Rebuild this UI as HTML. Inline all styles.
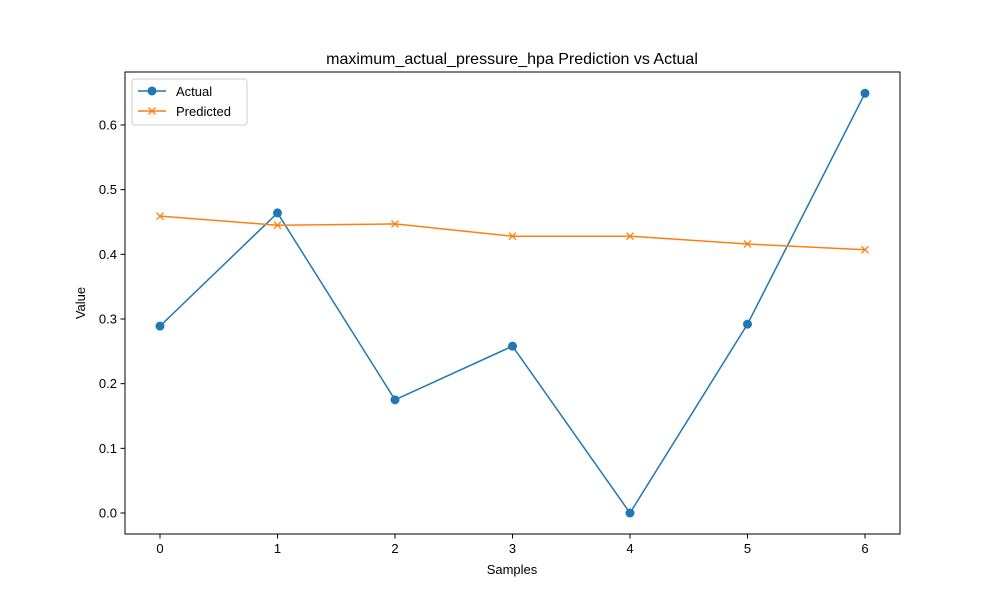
<!DOCTYPE html>
<html><head><meta charset="utf-8"><style>
body{margin:0;background:#fff;}
svg{font-family:"Liberation Sans","DejaVu Sans",sans-serif;}
</style></head><body>
<svg id="chart" width="1000" height="600" viewBox="0 0 1000 600">
<rect width="1000" height="600" fill="#fff"/>
<text x="512" y="64" font-size="16" text-anchor="middle">maximum_actual_pressure_hpa Prediction vs Actual</text>
<g id="axes"></g>
<g id="series"></g>
<rect x="125" y="72" width="775" height="462" fill="none" stroke="#000" stroke-width="1"/>
<text x="512" y="574" font-size="13" text-anchor="middle">Samples</text>
<text x="85" y="303" font-size="13" text-anchor="middle" transform="rotate(-90 85 303)">Value</text>
<g>
<rect x="132" y="79" width="115" height="46" fill="#fff" stroke="#ccc" rx="3"/>
<g>
<line x1="138" y1="91" x2="166" y2="91" stroke="#1f77b4" stroke-width="1.5"/>
<circle cx="152" cy="91" r="4.5" fill="#1f77b4"/>
<text x="176" y="96" font-size="13">Actual</text></g>
<g>
<line x1="138" y1="111" x2="166" y2="111" stroke="#ff7f0e" stroke-width="1.5"/>
<path d="M148.5 107.5L155.5 114.5M155.5 107.5L148.5 114.5" stroke="#ff7f0e" stroke-width="1.3"/>
<text x="176" y="116" font-size="13">Predicted</text></g>
</g>
</svg>
<script>
const samples=[0,1,2,3,4,5,6];
const actual=[0.289,0.464,0.175,0.258,0.0,0.292,0.649];
const predicted=[0.459,0.445,0.447,0.428,0.428,0.416,0.407];
const yTicks=[0.0,0.1,0.2,0.3,0.4,0.5,0.6];
const xTicks=[0,1,2,3,4,5,6];
const NS="http://www.w3.org/2000/svg";
const xs=v=>160+v*117.5;
const ys=v=>513-v*646.7;
function mk(t,a,p){const e=document.createElementNS(NS,t);for(const k in a)e.setAttribute(k,a[k]);p.appendChild(e);return e;}
const ax=document.getElementById('axes'),se=document.getElementById('series');
xTicks.forEach(t=>{const g=mk('g',{},ax);


mk('line',{x1:xs(t),x2:xs(t),y1:534,y2:538.5,stroke:'#000'},g);
const tx=mk('text',{x:xs(t),y:553,'font-size':13,'text-anchor':'middle'},g);tx.textContent=t;});
yTicks.forEach(t=>{const g=mk('g',{},ax);


mk('line',{x1:120.5,x2:125,y1:ys(t),y2:ys(t),stroke:'#000'},g);
const tx=mk('text',{x:117,y:ys(t)+4.5,'font-size':13,'text-anchor':'end'},g);tx.textContent=t.toFixed(1);});
const la=mk('polyline',{points:samples.map((s,i)=>xs(s)+','+ys(actual[i])).join(' '),fill:'none',stroke:'#1f77b4','stroke-width':1.5},se);


const lp=mk('polyline',{points:samples.map((s,i)=>xs(s)+','+ys(predicted[i])).join(' '),fill:'none',stroke:'#ff7f0e','stroke-width':1.5},se);


samples.forEach((s,i)=>{
const c=mk('circle',{cx:xs(s),cy:ys(actual[i]),r:4.5,fill:'#1f77b4'},se);


const x=xs(s),y=ys(predicted[i]);
const p=mk('path',{d:`M${x-3.5} ${y-3.5}L${x+3.5} ${y+3.5}M${x+3.5} ${y-3.5}L${x-3.5} ${y+3.5}`,stroke:'#ff7f0e','stroke-width':1.3},se);


});
</script>
</body></html>
